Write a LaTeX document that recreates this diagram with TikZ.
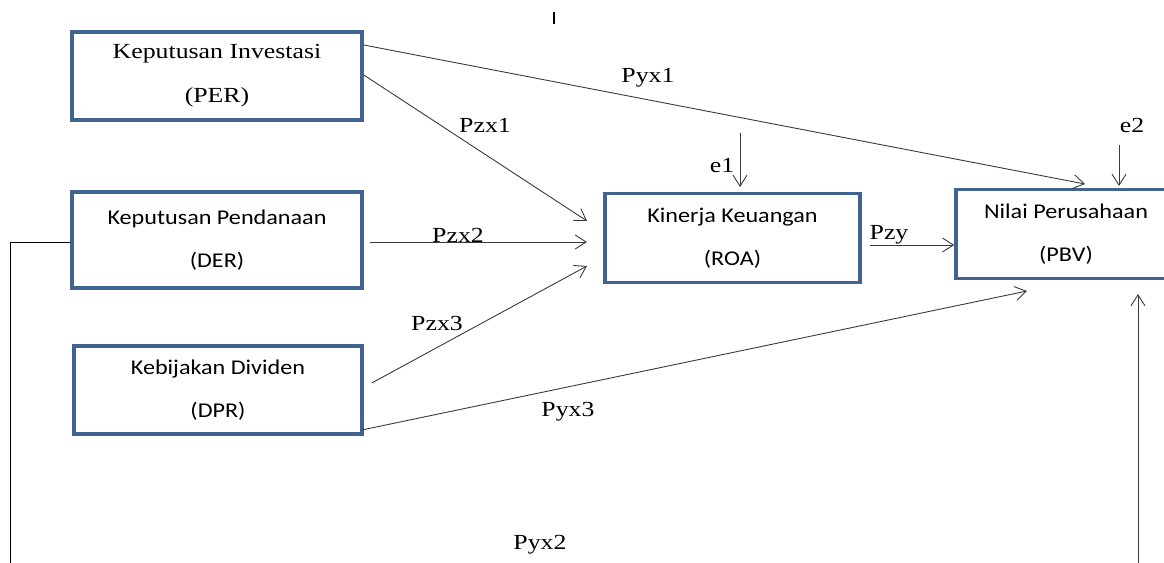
\documentclass[tikz,border=0pt]{standalone}
\usepackage{fontspec}
\setmainfont[FakeStretch=1.2]{Liberation Serif}
\newfontfamily\boxsans[FakeStretch=1.15]{Carlito}
\usetikzlibrary{arrows.meta}
\definecolor{boxblue}{HTML}{41638F}
\definecolor{linegray}{HTML}{3A3A3A}
\tikzset{
  varbox/.style={draw=boxblue, line width=3.5pt, fill=white, align=center, inner sep=0pt},
  serifbox/.style={varbox, font=\fontsize{21.5}{44}\selectfont},
  sansbox/.style={varbox, font=\boxsans\fontsize{21}{43}\selectfont},
  path/.style={draw=linegray, line width=0.9pt, -{Straight Barb[length=11pt,width=14pt,line width=0.9pt]}},
  plainpath/.style={draw=black, line width=1pt},
  coef/.style={font=\fontsize{21.5}{24}\selectfont, inner sep=0pt}
}
\begin{document}
\begin{tikzpicture}[x=1pt,y=-1pt]
\useasboundingbox (0,0) rectangle (1164,562);

\node[serifbox, minimum width=290pt, minimum height=88pt] (per) at (217,76) {Keputusan Investasi\\(PER)};
\node[sansbox, minimum width=290pt, minimum height=96pt] (der) at (217,240) {Keputusan Pendanaan\\(DER)};
\node[sansbox, minimum width=288pt, minimum height=88pt] (dpr) at (218,390) {Kebijakan Dividen\\(DPR)};
\node[sansbox, minimum width=255pt, minimum height=89pt] (roa) at (732.5,238) {Kinerja Keuangan\\(ROA)};
\node[sansbox, minimum width=220pt, minimum height=89pt] (pbv) at (1066,234) {Nilai Perusahaan\\(PBV)};

\coordinate (pyx1end) at (1085,184);
\coordinate (zin1) at (587,221);
\coordinate (zin2) at (587,242);
\coordinate (zin3) at (587,266);
\coordinate (pyx3end) at (1027,291);
\coordinate (e1top) at (740,133);
\coordinate (e1end) at (740,187);
\coordinate (e2top) at (1119,145);
\coordinate (e2end) at (1119,186);
\coordinate (leftdown) at (10,570);
\coordinate (rightup) at (1138,570);
\coordinate (rightend) at (1138,294);
\coordinate (ticktop) at (554,12);
\coordinate (tickbot) at (554,24);

\draw[path] ([yshift=31pt]per.east) -- (pyx1end);
\draw[path] ([yshift=1pt]per.east) -- (zin1);
\draw[path] ([xshift=6pt,yshift=-2pt]der.east) -- (zin2);
\draw[path] ([xshift=8pt,yshift=7pt]dpr.east) -- (zin3);
\draw[path] ([xshift=-2pt,yshift=-40pt]dpr.east) -- (pyx3end);
\draw[path] ([xshift=8pt,yshift=-7pt]roa.east) -- ([yshift=-11pt]pbv.west);
\draw[path] (e1top) -- (e1end);
\draw[path] (e2top) -- (e2end);
\draw[path] (rightup) -- (rightend);
\draw[plainpath] ([yshift=-2pt]der.west) -| (leftdown);
\draw[plainpath, line width=1.8pt] (ticktop) -- (tickbot);

\node[coef] (lpyx1) at (648,78) {Pyx1};
\node[coef] (lpzx1) at (485,125) {Pzx1};
\node[coef] (lpzx2) at (458,235) {Pzx2};
\node[coef] (lpzx3) at (437,323) {Pzx3};
\node[coef] (lpyx3) at (568,412) {Pyx3};
\node[coef] (lpzy) at (889,235) {Pzy};
\node[coef] (le1) at (722,166) {e1};
\node[coef] (le2) at (1132,125) {e2};
\node[coef] (lpyx2) at (540,545) {Pyx2};
\end{tikzpicture}
\end{document}
